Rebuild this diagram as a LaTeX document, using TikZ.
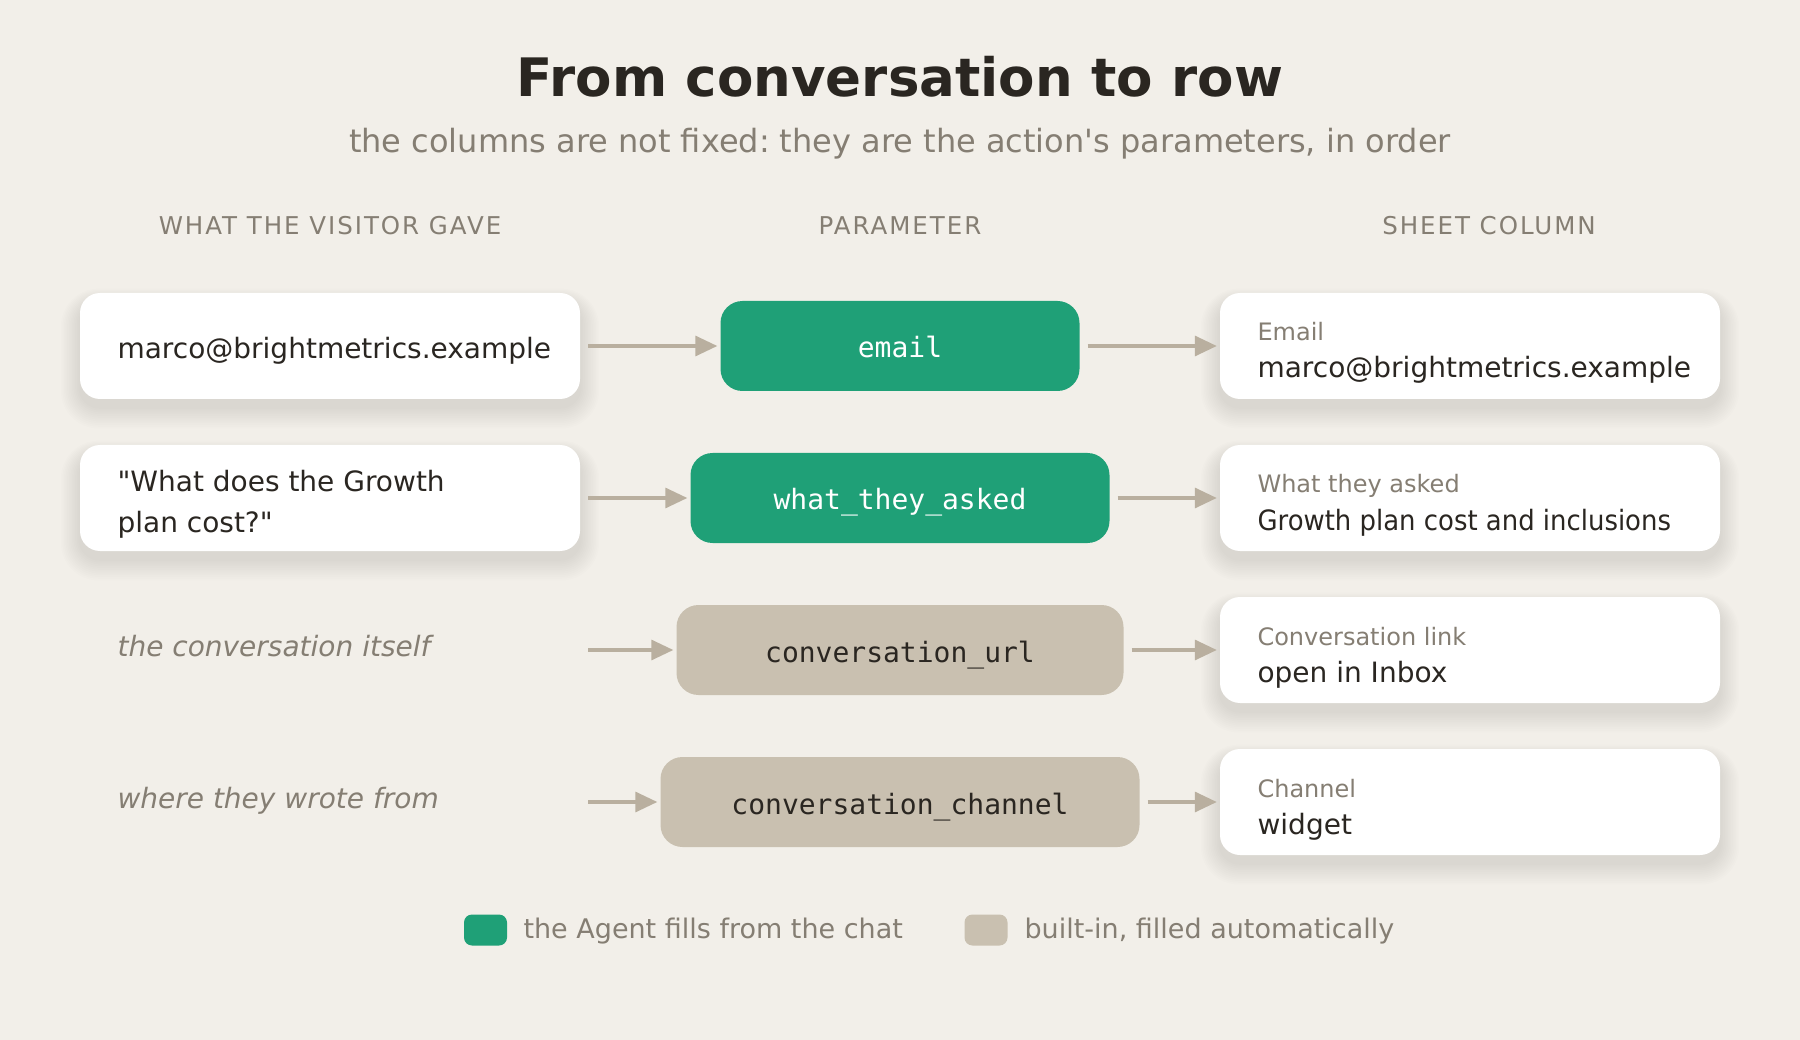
\documentclass[tikz,border=0pt]{standalone}
\usepackage{graphicx}
\usepackage{fontspec}
\setmainfont{DejaVu Sans}[Ligatures=TeXOff]
\setmonofont{DejaVu Sans Mono}
\newfontfamily\hdrfont[LetterSpace=8,Ligatures=TeXOff]{DejaVu Sans}
\usetikzlibrary{arrows.meta}
\frenchspacing
\definecolor{bg}{HTML}{F2EFE9}
\definecolor{agentgreen}{HTML}{1FA077}
\definecolor{builtin}{HTML}{C9C0B0}
\definecolor{arrowc}{HTML}{B9AF9F}
\definecolor{greytxt}{HTML}{857E73}
\definecolor{darktxt}{HTML}{2A2621}
\newcommand\fsz[2]{\fontsize{#1}{#2}\selectfont}
\newcommand\shadowbox[4]{%
  \foreach \i in {1,...,12}{%
    \fill[black,opacity=0.0065,rounded corners={20+\i*1.5}]
      ({#1-\i*1.6},{#2+10-\i*1.2}) rectangle ({#3+\i*1.6},{#4+8+\i*1.8});
  }%
}
\begin{document}
\begin{tikzpicture}[x=1pt,y=-1pt,
  whitebox/.style={fill=white,rounded corners=20pt,minimum width=500pt,minimum height=106pt,inner sep=0pt},
  parambox/.style={rounded corners=22pt,minimum height=90pt,inner sep=0pt},
  agentbox/.style={parambox,fill=agentgreen},
  autobox/.style={parambox,fill=builtin},
  paramtxt/.style={anchor=base,font=\ttfamily\fsz{28}{34}},
  flow/.style={draw=arrowc,line width=3.2pt,-{Triangle[length=22pt,width=20pt]}},
  hdr/.style={anchor=base,text=greytxt,font=\hdrfont\fsz{24.5}{28}},
  lefttxt/.style={anchor=base west,text=darktxt,font=\fsz{28}{40}},
  leftit/.style={anchor=base west,text=greytxt,font=\itshape\fsz{28}{40}},
  collabel/.style={anchor=base west,text=greytxt,font=\fsz{24}{28}},
  colvalue/.style={anchor=base west,text=darktxt,font=\fsz{28}{34}},
  legendsq/.style={rounded corners=8pt,minimum width=43pt,minimum height=31pt,inner sep=0pt},
  legendtxt/.style={anchor=base west,text=greytxt,font=\fsz{27}{32}}
]
\fill[bg] (0,0) rectangle (1800,1040);
\useasboundingbox (0,0) rectangle (1800,1040);

% title
\node[anchor=base,text=darktxt,font=\bfseries\fsz{53}{60}] (title) at (900,97) {From conversation to row};
\node[anchor=base,text=greytxt,font=\fsz{32}{36}] (subtitle) at (900,153) {the columns are not fixed: they are the action's parameters, in order};

% column headers
\node[hdr] (h1) at (330,235) {WHAT THE VISITOR GAVE};
\node[hdr] (h2) at (900,235) {PARAMETER};
\node[hdr] (h3) at (1489,235) {SHEET COLUMN};

% shadows
\shadowbox{80}{293}{580}{399}
\shadowbox{80}{445}{580}{551}
\foreach \y in {346,498,650,802}{\shadowbox{1220}{\y-53}{1720}{\y+53}}

% left column
\node[whitebox] (l1) at (330,346) {};
\node[whitebox] (l2) at (330,498) {};
\node[lefttxt] (l1t) at (114,358.5) {marco@brightmetrics.example};
\node[lefttxt] (l2ta) at (114,492) {"What does the Growth};
\node[lefttxt] (l2tb) at (114,532) {plan cost?"};
\node[leftit] (l3t) at (114,656) {the conversation itself};
\node[leftit] (l4t) at (114,808) {where they wrote from};
\coordinate (l3) at (580,650);
\coordinate (l4) at (580,802);

% middle column
\node[agentbox,minimum width=359pt] (m1) at (900,346) {};
\node[agentbox,minimum width=419pt] (m2) at (900,498) {};
\node[autobox,minimum width=447pt] (m3) at (900,650) {};
\node[autobox,minimum width=479pt] (m4) at (900,802) {};
\node[paramtxt,text=white] (m1t) at (900,358) {email};
\node[paramtxt,text=white] (m2t) at (900,510) {what\_they\_asked};
\node[paramtxt,text=darktxt] (m3t) at (900,662) {conversation\_url};
\node[paramtxt,text=darktxt] (m4t) at (900,814) {conversation\_channel};

% right column
\node[whitebox] (r1) at (1470,346) {};
\node[whitebox] (r2) at (1470,498) {};
\node[whitebox] (r3) at (1470,650) {};
\node[whitebox] (r4) at (1470,802) {};
\node[collabel] (r1a) at (1254,341) {Email};
\node[colvalue] (r1b) at (1254,378) {marco@brightmetrics.example};
\node[collabel] (r2a) at (1254,493) {What they asked};
\node[colvalue] (r2b) at (1254,530) {\scalebox{0.926}[1]{Growth plan cost and inclusions}};
\node[collabel] (r3a) at (1254,645) {Conversation link};
\node[colvalue] (r3b) at (1254,682) {open in Inbox};
\node[collabel] (r4a) at (1254,797) {Channel};
\node[colvalue] (r4b) at (1254,834) {widget};

% connectors
\draw[flow] ([xshift=8pt]l1.east) -- ([xshift=-3pt]m1.west);
\draw[flow] ([xshift=8pt]l2.east) -- ([xshift=-3pt]m2.west);
\draw[flow] ([xshift=8pt]l3) -- ([xshift=-3pt]m3.west);
\draw[flow] ([xshift=8pt]l4) -- ([xshift=-3pt]m4.west);
\draw[flow] ([xshift=8pt]m1.east) -- ([xshift=-3pt]r1.west);
\draw[flow] ([xshift=8pt]m2.east) -- ([xshift=-3pt]r2.west);
\draw[flow] ([xshift=8pt]m3.east) -- ([xshift=-3pt]r3.west);
\draw[flow] ([xshift=8pt]m4.east) -- ([xshift=-3pt]r4.west);

% legend
\node[legendsq,fill=agentgreen] (lg1) at (485.5,930) {};
\node[legendtxt] (lg1t) at (520,938) {the Agent fills from the chat};
\node[legendsq,fill=builtin] (lg2) at (986,930) {};
\node[legendtxt] (lg2t) at (1021,938) {built-in, filled automatically};
\end{tikzpicture}
\end{document}
